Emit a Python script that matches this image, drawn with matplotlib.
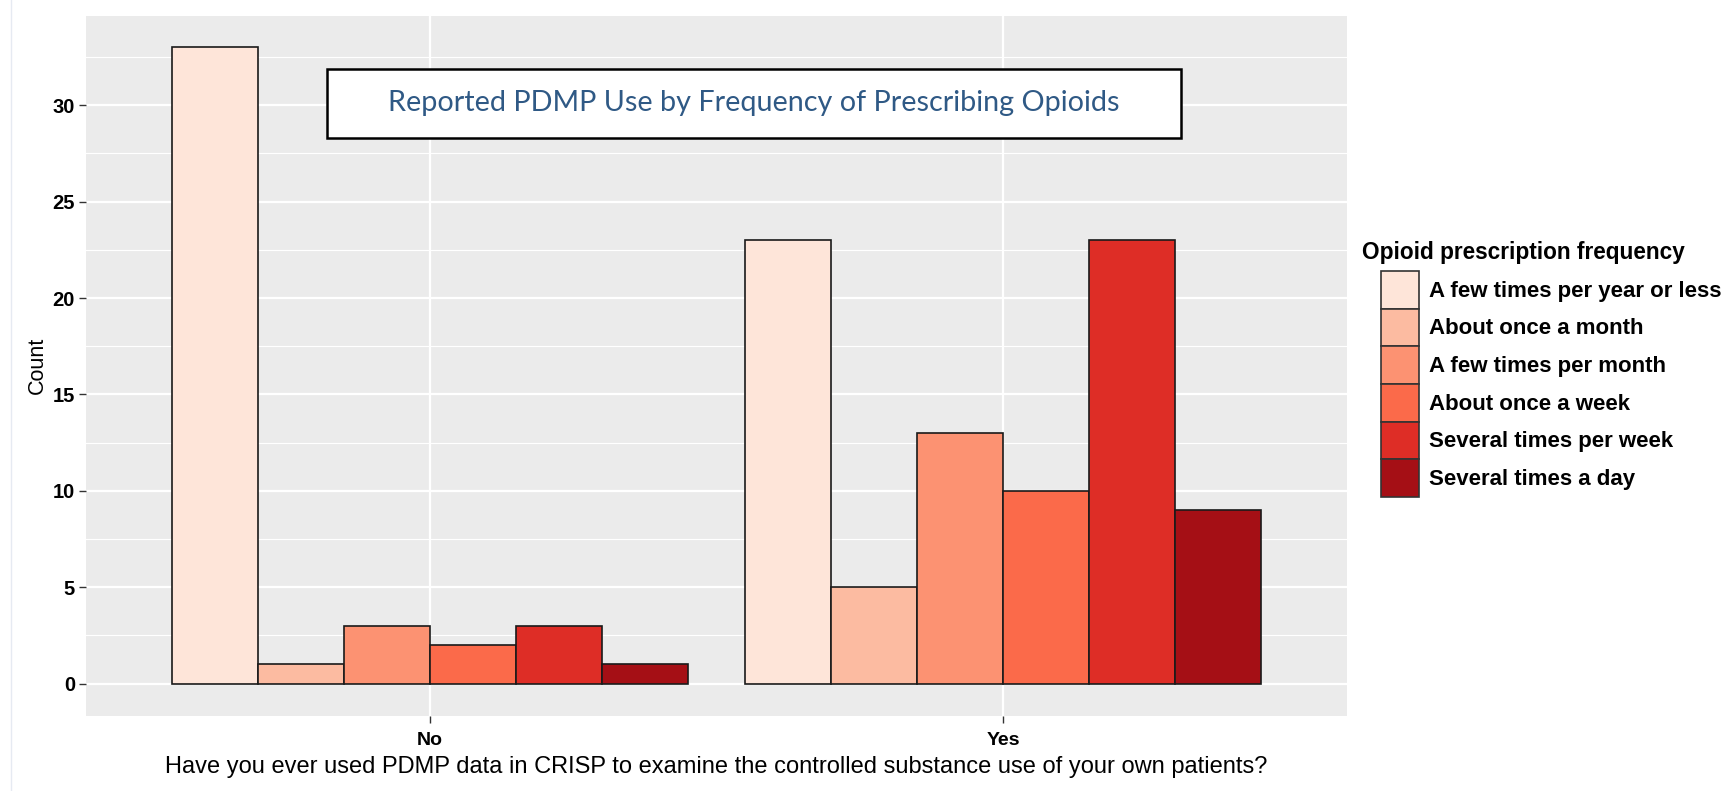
import numpy as np
import matplotlib
matplotlib.use("Agg")
import matplotlib.pyplot as plt
from matplotlib.patches import Patch, Rectangle

# data
groups = ["No", "Yes"]
freq_levels = ["A few times per year or less", "About once a month",
               "A few times per month", "About once a week",
               "Several times per week", "Several times a day"]
counts_no = [33, 1, 3, 2, 3, 1]
counts_yes = [23, 5, 13, 10, 23, 9]
colors = ["#FEE5D9", "#FCBBA1", "#FC9272", "#FB6A4A", "#DE2D26", "#A50F15"]

counts = np.array([counts_no, counts_yes])

fig = plt.figure(figsize=(17.34, 7.91), dpi=100)
ax = fig.add_axes([86 / 1734, 1 - 715.5 / 791, 1261 / 1734, 700 / 791])
ax.set_facecolor("#EBEBEB")

# faint screenshot border on the left
fig.add_artist(plt.Line2D([11 / 1734, 11 / 1734], [0, 1], color="#E6EAF2", lw=1))

x = np.arange(1, len(groups) + 1)
n = len(freq_levels)
bw = 0.9 / n
for i in range(n):
    ax.bar(x - 0.45 + bw * (i + 0.5), counts[:, i], width=bw, color=colors[i],
           edgecolor="#1a1a1a", linewidth=1.2, zorder=3)

ax.set_xlim(0.4, 2.6)
ax.set_ylim(-1.65, 34.65)
ax.set_xticks(x)
ax.set_xticklabels(groups)
ax.set_yticks(np.arange(0, 31, 5))
ax.set_yticks(np.arange(2.5, 33, 5), minor=True)
ax.grid(which="major", color="white", linewidth=1.6, zorder=0)
ax.grid(which="minor", axis="y", color="white", linewidth=0.8, zorder=0)
ax.set_axisbelow(True)
for s in ax.spines.values():
    s.set_visible(False)
ax.tick_params(which="major", length=5, width=1, color="#333333")
ax.tick_params(axis="x", pad=7)
ax.tick_params(axis="y", pad=3)
ax.tick_params(which="minor", length=0)
for lab in ax.get_yticklabels():
    lab.set_fontsize(14.5)
    lab.set_fontweight("bold")
    lab.set_family("Liberation Sans")
for lab in ax.get_xticklabels():
    lab.set_fontsize(14)
    lab.set_fontweight("bold")
    lab.set_family("Liberation Sans")

ax.set_ylabel("Count", fontsize=15.5, family="Liberation Sans", labelpad=3)
ax.set_xlabel("Have you ever used PDMP data in CRISP to examine the controlled substance use of your own patients?",
              fontsize=17, family="Liberation Sans", labelpad=5)

# title box
ax.add_patch(Rectangle((0.191, 0.825), 0.677, 0.099, transform=ax.transAxes,
                       facecolor="white", edgecolor="black", linewidth=1.8, zorder=5))
ax.text(0.5295, 0.8745, "Reported PDMP Use by Frequency of Prescribing Opioids",
        transform=ax.transAxes, ha="center", va="center", fontsize=20.7,
        family="Lato", color="#2F5985", zorder=6)

# legend
fig.text(1362 / 1734, 1 - 252 / 791, "Opioid prescription frequency", ha="left", va="center",
         fontsize=16.3, fontweight="bold", family="Liberation Sans")
handles = [Patch(facecolor=c, edgecolor="#333333", linewidth=1.2) for c in colors]
leg = fig.legend(handles, freq_levels, loc="upper left",
                 bbox_to_anchor=(1381 / 1734, 1 - 271 / 791),
                 frameon=False, fontsize=16, handlelength=1.69, handleheight=2.23,
                 labelspacing=0.0, handletextpad=0.45, borderpad=0, borderaxespad=0)
for t in leg.get_texts():
    t.set_fontweight("bold")
    t.set_family("Liberation Sans")

fig.savefig("out.png", dpi=100)
